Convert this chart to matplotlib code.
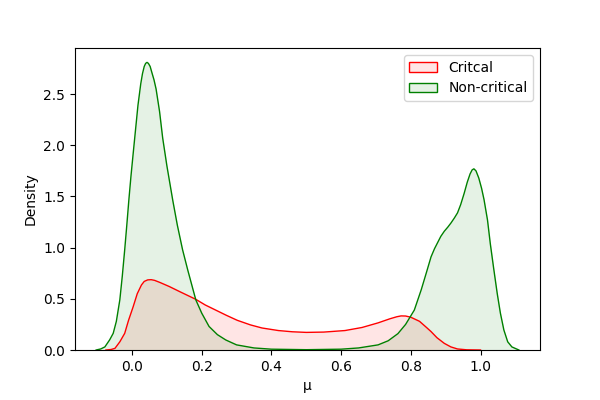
import matplotlib
matplotlib.use('Agg')
import matplotlib.pyplot as plt
from matplotlib.patches import Patch

# density curves (x, density)
crit_x = [-0.075, -0.06, -0.049, -0.035, -0.021, -0.01, 0.003, 0.015, 0.027, 0.035,
          0.045, 0.055, 0.065, 0.08, 0.107, 0.14, 0.183, 0.21, 0.24, 0.27,
          0.302, 0.34, 0.373, 0.42, 0.46, 0.50, 0.55, 0.611, 0.66, 0.706,
          0.74, 0.76, 0.772, 0.785, 0.80, 0.825, 0.845, 0.858, 0.875, 0.896,
          0.915, 0.934, 0.96, 1.0]
crit_y = [0.0, 0.005, 0.016, 0.08, 0.163, 0.29, 0.42, 0.55, 0.635, 0.67,
          0.685, 0.687, 0.68, 0.66, 0.62, 0.565, 0.495, 0.44, 0.39, 0.34,
          0.29, 0.245, 0.215, 0.19, 0.178, 0.172, 0.175, 0.19, 0.22, 0.265,
          0.305, 0.325, 0.333, 0.332, 0.32, 0.28, 0.22, 0.18, 0.12, 0.065,
          0.03, 0.01, 0.002, 0.0]

noncrit_x = [-0.103, -0.09, -0.078, -0.064, -0.054, -0.045, -0.035, -0.028, -0.021, -0.015,
             -0.009, -0.003, 0.003, 0.010, 0.017, 0.025, 0.030, 0.035, 0.039, 0.043,
             0.047, 0.052, 0.057, 0.063, 0.069, 0.079, 0.088, 0.100, 0.117, 0.130,
             0.145, 0.160, 0.183, 0.200, 0.221, 0.245, 0.269, 0.300, 0.35, 0.40,
             0.50, 0.60, 0.65, 0.706, 0.735, 0.763, 0.785, 0.81, 0.83, 0.845,
             0.858, 0.868, 0.877, 0.886, 0.896, 0.906, 0.915, 0.925, 0.934, 0.943,
             0.953, 0.962, 0.970, 0.976, 0.981, 0.987, 0.995, 1.003, 1.01, 1.02,
             1.028, 1.038, 1.048, 1.057, 1.067, 1.078, 1.09, 1.11]
noncrit_y = [0.0, 0.01, 0.03, 0.10, 0.163, 0.28, 0.49, 0.72, 0.98, 1.22,
             1.47, 1.70, 1.91, 2.15, 2.39, 2.60, 2.70, 2.77, 2.80, 2.81,
             2.80, 2.77, 2.71, 2.64, 2.55, 2.33, 2.07, 1.80, 1.46, 1.22,
             0.98, 0.78, 0.49, 0.36, 0.23, 0.15, 0.098, 0.05, 0.02, 0.008,
             0.003, 0.008, 0.02, 0.05, 0.09, 0.16, 0.25, 0.39, 0.59, 0.76,
             0.91, 0.99, 1.05, 1.11, 1.16, 1.20, 1.24, 1.29, 1.34, 1.42,
             1.53, 1.64, 1.72, 1.76, 1.77, 1.75, 1.68, 1.58, 1.47, 1.27,
             1.04, 0.79, 0.55, 0.36, 0.195, 0.08, 0.03, 0.0]

fig, ax = plt.subplots(figsize=(6, 4), dpi=100)
fig.subplots_adjust(left=0.125, right=0.9, bottom=0.125, top=0.88)

ax.fill_between(crit_x, crit_y, color='red', alpha=0.1, linewidth=0)
ax.plot(crit_x, crit_y, color='red', linewidth=1)
ax.fill_between(noncrit_x, noncrit_y, color='green', alpha=0.1, linewidth=0)
ax.plot(noncrit_x, noncrit_y, color='green', linewidth=1)

ax.set_ylim(bottom=0)
ax.set_xlabel("μ")
ax.set_ylabel("Density")

handles = [Patch(facecolor=(1, 0, 0, 0.1), edgecolor='red', label='Critcal'),
           Patch(facecolor=(0, 0.5, 0, 0.1), edgecolor='green', label='Non-critical')]
ax.legend(handles=handles, loc='upper right')

fig.savefig('out.png')
